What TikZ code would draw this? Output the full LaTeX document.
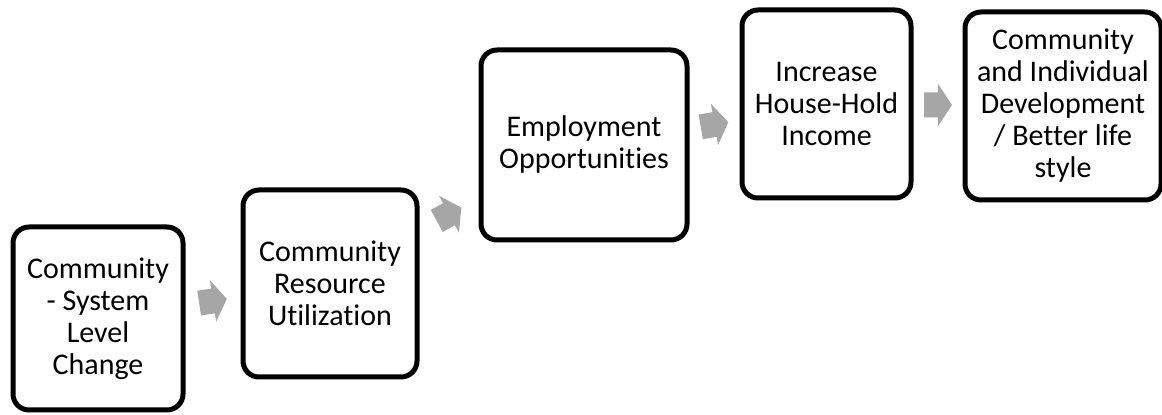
\documentclass[tikz,border=0pt]{standalone}
\usepackage{fontspec}
\setmainfont{Carlito}[Ligatures={NoCommon}]
\usetikzlibrary{calc}
\definecolor{arrowgray}{HTML}{A6A6A6}
\tikzset{
  stepbox/.style={draw=black, line width=5pt, rounded corners=16pt, fill=white,
    align=center, inner sep=0pt, font=\fontsize{30}{32}\selectfont},
  blockarrow/.pic={\fill[arrowgray] (-14,-12.5) -- (0,-12.5) -- (0,-21) -- (14,0) -- (0,21) -- (0,12.5) -- (-14,12.5) -- cycle;}
}
\begin{document}
\begin{tikzpicture}[x=1pt,y=1pt]
\useasboundingbox (0,0) rectangle (1162,415);
\node[stepbox, minimum width=170pt, minimum height=183pt] (b1) at (98,96.5) {Community\\- System\\Level\\Change};
\node[stepbox, minimum width=174pt, minimum height=187pt] (b2) at (330,131.5) {Community\\Resource\\Utilization};
\node[stepbox, minimum width=206pt, minimum height=190pt] (b3) at (584,270) {Employment\\Opportunities};
\node[stepbox, minimum width=169pt, minimum height=188pt] (b4) at (826.5,311) {Increase\\House-Hold\\Income};
\node[stepbox, minimum width=196pt, minimum height=188pt] (b5) at (1063,309) {Community\\and Individual\\Development\\/ Better life\\style};
\pic[rotate=8.6] at ($(b1.east)!0.5!(b2.west)$) {blockarrow};
\pic[rotate=28.4] at ($(b2.east)!0.5!(b3.west)$) {blockarrow};
\pic[rotate=9.8] at ($(b3.east)!0.5!(b4.west)$) {blockarrow};
\pic[rotate=0] at ($(b4.east)!0.5!(b5.west)$) {blockarrow};
\end{tikzpicture}
\end{document}
